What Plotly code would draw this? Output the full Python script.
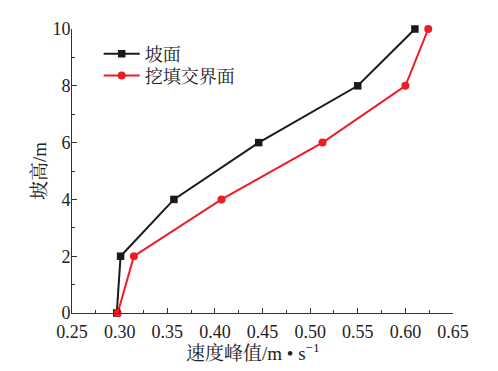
import plotly.graph_objects as go

heights = [0, 2, 4, 6, 8, 10]
slope_v = [0.297, 0.301, 0.357, 0.446, 0.550, 0.610]
cutfill_v = [0.298, 0.315, 0.407, 0.513, 0.600, 0.624]
names = ["坡面", "挖填交界面"]
x_title = "速度峰值/m • s<sup>−1</sup>"
y_title = "坡高/m"

font_fam = "Liberation Serif, Times New Roman, Noto Serif CJK SC, Noto Sans CJK SC, serif"

fig = go.Figure()
fig.add_trace(go.Scatter(x=slope_v, y=heights, name=names[0], mode="lines+markers",
                         line=dict(color="#1a1a1a", width=2),
                         marker=dict(symbol="square", size=7.5, color="#1a1a1a"),
                         cliponaxis=False, legend="legend"))
fig.add_trace(go.Scatter(x=cutfill_v, y=heights, name=names[1], mode="lines+markers",
                         line=dict(color="#ee1c25", width=2),
                         marker=dict(symbol="circle", size=8, color="#ee1c25"),
                         cliponaxis=False, legend="legend2"))

axis_common = dict(showgrid=False, zeroline=False, showline=True, linecolor="#333",
                   linewidth=1, ticks="inside", ticklen=5, tickcolor="#333",
                   tickfont=dict(family=font_fam, size=18, color="#222"))
fig.update_xaxes(range=[0.25, 0.65], tick0=0.25, dtick=0.05, tickformat=".2f",
                 minor=dict(ticks="inside", ticklen=3, dtick=0.025, tick0=0.25, tickcolor="#333"),
                 ticklabelstandoff=2,
                 **axis_common)
fig.update_yaxes(range=[0, 10], tick0=0, dtick=2,
                 minor=dict(ticks="inside", ticklen=3, dtick=1, tick0=0, tickcolor="#333"),
                 ticklabelstandoff=-3,
                 title=dict(text=y_title, font=dict(family=font_fam, size=19, color="#222"),
                            standoff=0),
                 **axis_common)

fig.add_annotation(text=x_title, xref="paper", yref="paper", x=0.475, y=-0.138,
                   xanchor="center", yanchor="middle", showarrow=False,
                   font=dict(family=font_fam, size=19, color="#222"))

leg_common = dict(xanchor="left", yanchor="middle", bgcolor="rgba(0,0,0,0)",
                  itemwidth=36, font=dict(family=font_fam, size=18, color="#222"))
fig.update_layout(width=490, height=363, margin=dict(l=64, r=45, t=21, b=58),
                  paper_bgcolor="white", plot_bgcolor="white", showlegend=True,
                  legend=dict(x=0.07, y=0.912, **leg_common),
                  legend2=dict(x=0.07, y=0.835, **leg_common))
fig.write_html("out.html")
